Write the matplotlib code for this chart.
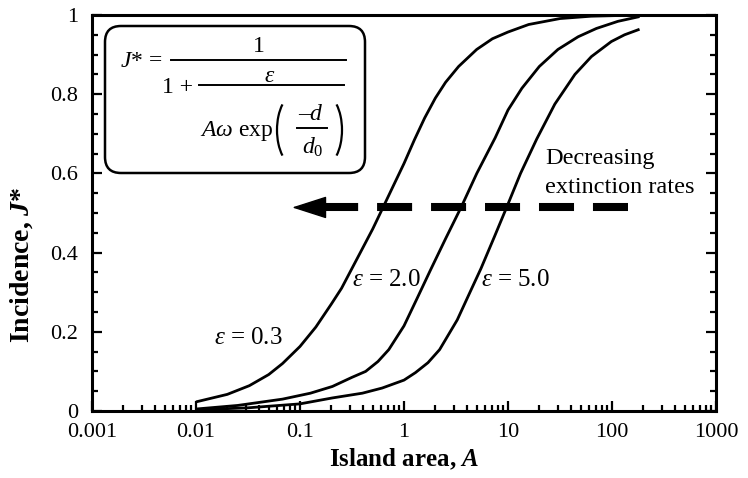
import numpy as np
import matplotlib
matplotlib.use("Agg")
import matplotlib.pyplot as plt
from matplotlib.ticker import LogLocator, MultipleLocator, NullFormatter
from matplotlib.patches import FancyBboxPatch, Arc

# ---------------- data ----------------
area_e03 = [0.01, 0.02, 0.0326, 0.05, 0.068, 0.1, 0.142, 0.2, 0.251, 0.316, 0.398,
            0.501, 0.631, 0.794, 1.0, 1.26, 1.58, 2.0, 2.51, 3.35, 5.0, 7.08,
            10, 15.8, 31.6, 63, 186]
inc_e03 = [0.023, 0.042, 0.064, 0.092, 0.12, 0.163, 0.212, 0.27, 0.31, 0.36, 0.41,
           0.46, 0.515, 0.57, 0.625, 0.685, 0.74, 0.79, 0.83, 0.87, 0.913, 0.94,
           0.957, 0.976, 0.991, 0.997, 1.0]

area_e20 = [0.01, 0.0251, 0.068, 0.126, 0.205, 0.316, 0.428, 0.562, 0.714, 1.0,
            1.34, 1.79, 2.51, 3.58, 5.01, 7.53, 10, 13.6, 20, 30.2, 47.2, 70.8,
            114, 184]
inc_e20 = [0.005, 0.014, 0.030, 0.045, 0.062, 0.085, 0.10, 0.125, 0.155, 0.215,
           0.285, 0.355, 0.435, 0.517, 0.60, 0.69, 0.76, 0.815, 0.87, 0.913, 0.945,
           0.966, 0.984, 0.996]

area_e50 = [0.01, 0.0316, 0.1, 0.205, 0.398, 0.617, 1.0, 1.29, 1.7, 2.2, 3.25,
            4.4, 5.5, 7.4, 9.8, 13.2, 18.9, 28.2, 44.0, 63.4, 98.6, 132, 184]
inc_e50 = [0.003, 0.008, 0.018, 0.033, 0.045, 0.058, 0.078, 0.097, 0.122, 0.155,
           0.23, 0.305, 0.36, 0.44, 0.517, 0.60, 0.687, 0.775, 0.85, 0.895, 0.933,
           0.95, 0.964]

xtick_vals = [0.001, 0.01, 0.1, 1, 10, 100, 1000]
xtick_labels = ["0.001", "0.01", "0.1", "1", "10", "100", "1000"]
ytick_vals = [0, 0.2, 0.4, 0.6, 0.8, 1.0]
ytick_labels = ["0", "0.2", "0.4", "0.6", "0.8", "1"]

# ---------------- style ----------------
plt.rcParams['font.family'] = ['Liberation Serif', 'DejaVu Serif']
plt.rcParams['mathtext.fontset'] = 'custom'
plt.rcParams['mathtext.rm'] = 'Liberation Serif'
plt.rcParams['mathtext.it'] = 'Liberation Serif:italic'
plt.rcParams['mathtext.bf'] = 'Liberation Serif:bold'
plt.rcParams['mathtext.bfit'] = 'Liberation Serif:italic:bold'

W, H = 748, 478
fig = plt.figure(figsize=(W / 100, H / 100), dpi=100)
L, R, T, B = 92, 716, 15, 411
ax = fig.add_axes([L / W, 1 - B / H, (R - L) / W, (B - T) / H])

for a, j in ((area_e03, inc_e03), (area_e20, inc_e20), (area_e50, inc_e50)):
    ax.plot(a, j, color='black', lw=2.0, solid_capstyle='butt',
            solid_joinstyle='round')

ax.set_xscale('log')
ax.set_xlim(1e-3, 1e3)
ax.set_ylim(0, 1)
ax.set_xticks(xtick_vals)
ax.set_xticklabels(xtick_labels)
ax.xaxis.set_minor_locator(LogLocator(base=10, subs=np.arange(2, 10)))
ax.xaxis.set_minor_formatter(NullFormatter())
ax.set_yticks(ytick_vals)
ax.set_yticklabels(ytick_labels)
ax.yaxis.set_minor_locator(MultipleLocator(0.05))

for sp in ax.spines.values():
    sp.set_linewidth(2.2)
ax.tick_params(which='both', direction='in', top=False, bottom=True,
               left=True, right=True, width=1.6, labelsize=16)
ax.tick_params(which='major', length=7.5)
ax.tick_params(which='minor', length=4.3)
ax.tick_params(axis='x', which='major', pad=8.5)
ax.tick_params(axis='y', which='major', pad=10)

ax.set_xlabel(r'Island area, $\mathbfit{A}$', fontsize=18, fontweight='bold')
ax.xaxis.set_label_coords(0.5, -0.09)
ax.set_ylabel(r'Incidence, $\mathbfit{J}$*', fontsize=20, fontweight='bold')
ax.yaxis.set_label_coords(-0.091, 0.369)

# curve labels
ax.text(0.032, 0.184, r'$\varepsilon$ = 0.3', fontsize=18, ha='center', va='center')
ax.text(0.68, 0.33, r'$\varepsilon$ = 2.0', fontsize=18, ha='center', va='center')
ax.text(11.8, 0.33, r'$\varepsilon$ = 5.0', fontsize=18, ha='center', va='center')

# decreasing-extinction arrow
ax.text(22.8, 0.637, 'Decreasing', fontsize=17.5, ha='left', va='center')
ax.text(22.8, 0.564, 'extinction rates', fontsize=17.5, ha='left', va='center')
ax.plot([142, 0.163], [0.514, 0.514], color='black', lw=5.8,
        dashes=(4.35, 2.35), dash_capstyle='butt')
ax.annotate('', xy=(0.084, 0.514), xytext=(0.163, 0.514),
            arrowprops=dict(arrowstyle='-|>,head_length=1.4,head_width=0.45',
                            mutation_scale=16, color='black', lw=1,
                            shrinkA=0, shrinkB=0))

# ---------------- formula box (overlay in pixel units) ----------------
ov = fig.add_axes([0, 0, 1, 1], zorder=5)
ov.set_xlim(0, W)
ov.set_ylim(H, 0)
ov.axis('off')
ov.patch.set_alpha(0)

box = FancyBboxPatch((105, 26), 260, 147, boxstyle='round,pad=0,rounding_size=16',
                     facecolor='white', edgecolor='black', lw=1.8)
ov.add_patch(box)
fs = 17
ov.text(120, 67, r'$J$* =', fontsize=fs, ha='left', va='baseline')
ov.plot([171, 346], [60, 60], color='black', lw=1.4)
ov.text(259, 52, '1', fontsize=fs, ha='center', va='baseline')
ov.text(162, 93, '1 +', fontsize=fs, ha='left', va='baseline')
ov.plot([199, 344], [85, 85], color='black', lw=1.4)
ov.text(270, 82, r'$\varepsilon$', fontsize=fs, ha='center', va='baseline')
ov.text(200, 136, r'$A\omega$ exp', fontsize=fs, ha='left', va='baseline')
ov.text(311, 120, '\u2013' + r'$d$', fontsize=fs, ha='center', va='baseline')
ov.plot([297, 327], [128, 128], color='black', lw=1.4)
ov.text(313, 154, r'$d_0$', fontsize=fs, ha='center', va='baseline')
ov.add_patch(Arc((295.5, 130), 37, 72, theta1=117, theta2=243, color='black', lw=1.6))
ov.add_patch(Arc((323.5, 130), 37, 72, theta1=-63, theta2=63, color='black', lw=1.6))

fig.savefig('out.png', dpi=100)
